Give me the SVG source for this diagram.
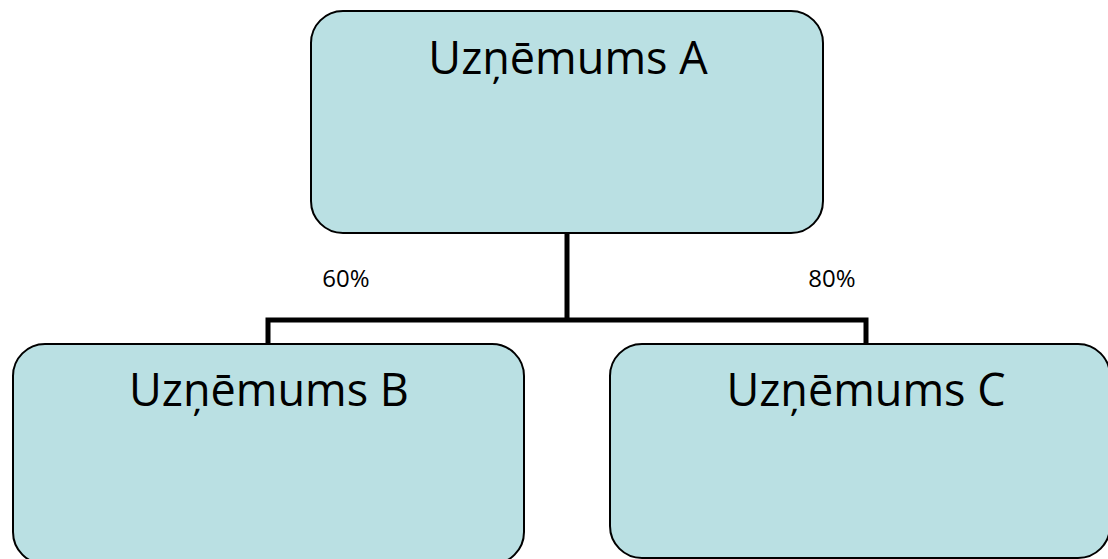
<svg xmlns="http://www.w3.org/2000/svg" width="1108" height="559" viewBox="0 0 1108 559">
<style>
.box{fill:#bae0e3;stroke:#000;stroke-width:2}
.t{font-family:"Open Sans","Liberation Sans",sans-serif;font-size:45px;fill:#000;text-anchor:middle}
.p{font-family:"Open Sans","Liberation Sans",sans-serif;font-size:24px;fill:#000;text-anchor:middle}
.c{fill:none;stroke:#000;stroke-width:5}
</style>
<rect width="1108" height="559" fill="#fff"/>
<g id="connectors">
<path class="c" d="M567 233 V320 M268 344 V320 H866 V344"/>
</g>
<g id="nodeA"><rect class="box" x="311" y="11" width="512" height="222" rx="32"/><text class="t" x="568" y="74">Uzņēmums A</text></g>
<g id="nodeB"><rect class="box" x="13" y="344" width="511" height="220" rx="32"/><text class="t" x="269" y="406">Uzņēmums B</text></g>
<g id="nodeC"><rect class="box" x="610" y="344" width="500" height="214" rx="32"/><text class="t" x="866" y="406">Uzņēmums C</text></g>
<g id="labels"><text class="p" x="346" y="287">60%</text><text class="p" x="832" y="287">80%</text></g>
</svg>
